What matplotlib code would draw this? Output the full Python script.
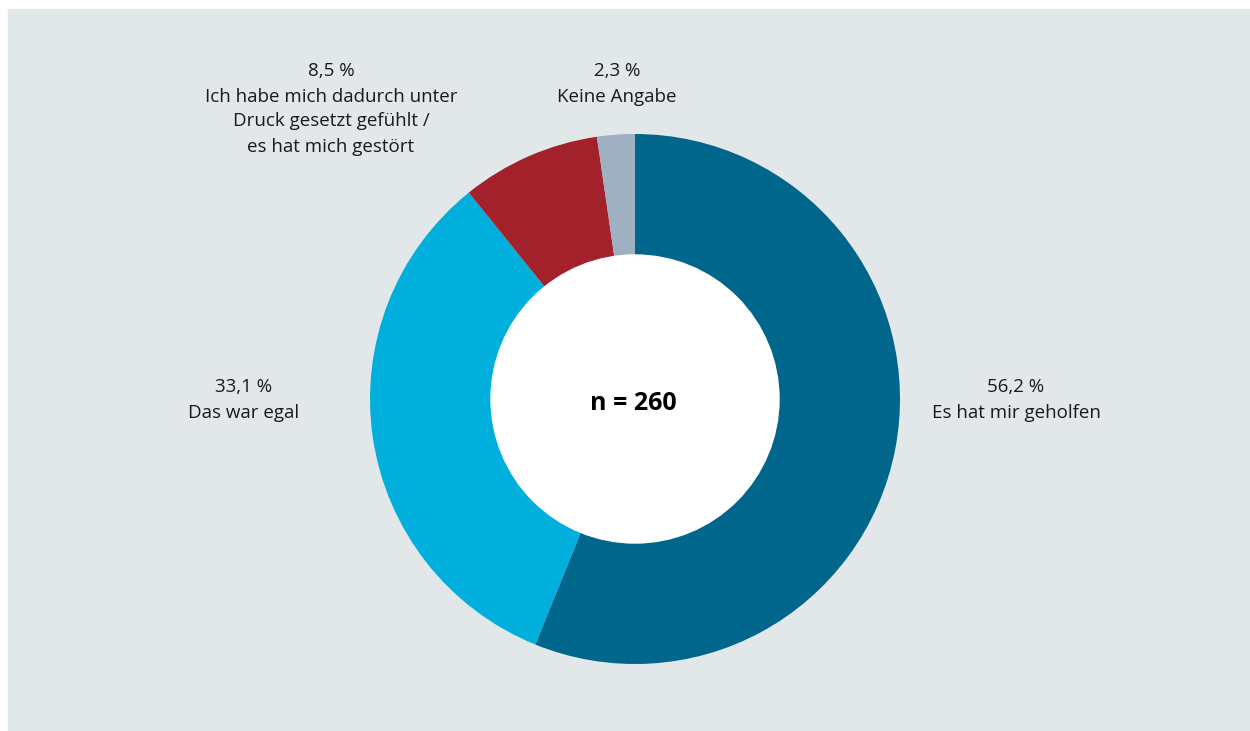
import matplotlib
matplotlib.use("Agg")
import matplotlib.pyplot as plt
from matplotlib.patches import Rectangle, Circle

# answer shares (percent), clockwise from the top
answers = ["Es hat mir geholfen", "Das war egal",
           "Ich habe mich dadurch unter\nDruck gesetzt gefühlt /\nes hat mich gestört",
           "Keine Angabe"]
shares = [56.2, 33.1, 8.5, 2.3]
colors = ["#00668b", "#00afdc", "#a3212a", "#9eb0c1"]
n_total = 260

W, H = 1250, 731
BG = "#e2e7ea"
CX, CY = 635, H - 399
R_OUT, R_IN = 265, 144

plt.rcParams["font.family"] = ["Open Sans", "DejaVu Sans"]

fig = plt.figure(figsize=(W / 100, H / 100), dpi=100)
fig.patch.set_facecolor("white")
ax = fig.add_axes([0, 0, 1, 1])
ax.axis("off")

# grey panel
ax.add_patch(Rectangle((8, 0), W - 8, H - 9, color=BG, zorder=0))

ax.pie(shares, colors=colors, startangle=90, counterclock=False,
       radius=R_OUT, center=(CX, CY),
       wedgeprops=dict(width=R_OUT - R_IN, linewidth=0))
ax.add_patch(Circle((CX, CY), R_IN, color="white", zorder=3))
ax.set_xlim(0, W)
ax.set_ylim(0, H)
ax.set_aspect("equal")

fmt = lambda v: f"{v:.1f}".replace(".", ",") + " %"
label_pos = [(1016, 400), (244, 400), (331, 109), (617, 84)]
for name, val, (x, y) in zip(answers, shares, label_pos):
    ax.text(x, H - y, fmt(val) + "\n" + name, ha="center", va="center",
            fontsize=13.5, color="#1a1a1a", linespacing=1.5, zorder=4)

ax.text(CX - 2, H - 403, f"n = {n_total}", ha="center", va="center",
        fontsize=18, fontweight="bold", color="black", zorder=4)

fig.savefig("out.png", dpi=100, facecolor=fig.get_facecolor())
